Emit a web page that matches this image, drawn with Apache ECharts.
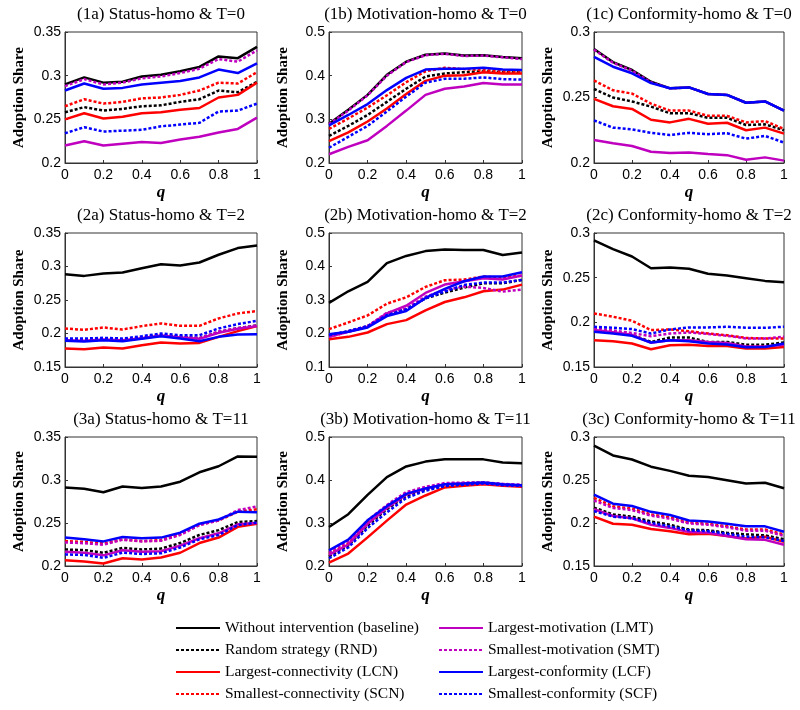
<!DOCTYPE html>
<html>
<head>
<meta charset="utf-8">
<script src="https://cdn.jsdelivr.net/npm/echarts@6/dist/echarts.min.js"></script>
<style>
html,body{margin:0;padding:0;background:#fff;}
#chart{width:800px;height:710px;}
</style>
</head>
<body>
<div id="chart"></div>
<script>
// ---------- data ----------
const qValues = [0, 0.1, 0.2, 0.3, 0.4, 0.5, 0.6, 0.7, 0.8, 0.9, 1];
const seriesNames = ['Without intervention (baseline)', 'Random strategy (RND)', 'Largest-connectivity (LCN)', 'Smallest-connectivity (SCN)',
                     'Largest-motivation (LMT)', 'Smallest-motivation (SMT)', 'Largest-conformity (LCF)', 'Smallest-conformity (SCF)'];
const seriesColors = ['#000000', '#000000', '#ff0000', '#ff0000', '#bf00bf', '#bf00bf', '#0000ff', '#0000ff'];
const seriesDotted = [false, true, false, true, false, true, false, true];

const panelTitles = ['(1a) Status-homo & T=0', '(1b) Motivation-homo & T=0', '(1c) Conformity-homo & T=0',
                     '(2a) Status-homo & T=2', '(2b) Motivation-homo & T=2', '(2c) Conformity-homo & T=2',
                     '(3a) Status-homo & T=11', '(3b) Motivation-homo & T=11', '(3c) Conformity-homo & T=11'];
const yMins = [0.2, 0.2, 0.2, 0.15, 0.1, 0.15, 0.2, 0.2, 0.15];
const yMaxs = [0.35, 0.5, 0.3, 0.35, 0.5, 0.3, 0.35, 0.5, 0.3];
const yIntervals = [0.05, 0.1, 0.05, 0.05, 0.1, 0.05, 0.05, 0.1, 0.05];

// order of rows in each panel: baseline, RND, LCN, SCN, LMT, SMT, LCF, SCF
const panel1a = [
  [0.290,0.298,0.292,0.293,0.299,0.301,0.305,0.310,0.322,0.320,0.333],
  [0.258,0.264,0.260,0.262,0.265,0.266,0.270,0.273,0.283,0.281,0.293],
  [0.250,0.257,0.251,0.253,0.257,0.258,0.261,0.263,0.275,0.278,0.292],
  [0.265,0.273,0.268,0.270,0.274,0.275,0.278,0.283,0.292,0.291,0.304],
  [0.220,0.225,0.220,0.222,0.224,0.223,0.227,0.230,0.235,0.239,0.252],
  [0.288,0.296,0.290,0.292,0.297,0.299,0.303,0.308,0.319,0.316,0.329],
  [0.283,0.291,0.285,0.286,0.290,0.292,0.294,0.298,0.307,0.303,0.314],
  [0.234,0.241,0.236,0.237,0.238,0.242,0.244,0.246,0.259,0.260,0.268]
];
const panel1b = [
  [0.290,0.322,0.356,0.402,0.432,0.448,0.451,0.446,0.447,0.443,0.440],
  [0.262,0.285,0.310,0.340,0.370,0.398,0.405,0.408,0.410,0.408,0.408],
  [0.250,0.270,0.295,0.325,0.358,0.388,0.400,0.401,0.408,0.405,0.405],
  [0.278,0.302,0.327,0.355,0.385,0.410,0.418,0.415,0.413,0.410,0.410],
  [0.220,0.237,0.252,0.285,0.320,0.356,0.370,0.375,0.383,0.380,0.380],
  [0.289,0.320,0.355,0.400,0.431,0.447,0.450,0.445,0.446,0.442,0.438],
  [0.286,0.310,0.335,0.367,0.395,0.414,0.416,0.416,0.418,0.414,0.413],
  [0.235,0.260,0.285,0.318,0.352,0.384,0.393,0.393,0.396,0.392,0.391]
];
const panel1c = [
  [0.287,0.277,0.271,0.262,0.257,0.2577,0.2527,0.252,0.246,0.247,0.240],
  [0.2565,0.250,0.247,0.243,0.238,0.238,0.2345,0.2345,0.229,0.2295,0.225],
  [0.249,0.2433,0.2413,0.233,0.231,0.2337,0.230,0.2307,0.225,0.227,0.2224],
  [0.263,0.2555,0.253,0.2453,0.240,0.240,0.236,0.236,0.231,0.232,0.226],
  [0.2176,0.215,0.213,0.2086,0.2076,0.208,0.2068,0.206,0.2025,0.2043,0.2018],
  [0.2865,0.2765,0.2705,0.2615,0.257,0.2577,0.2527,0.252,0.246,0.247,0.240],
  [0.281,0.2735,0.2685,0.261,0.257,0.2577,0.2527,0.252,0.246,0.247,0.240],
  [0.2325,0.227,0.2257,0.223,0.2214,0.223,0.222,0.2227,0.2186,0.2207,0.2156]
];
const panel2a = [
  [0.2885,0.286,0.2895,0.291,0.2975,0.3035,0.3015,0.306,0.3175,0.3275,0.3315],
  [0.190,0.189,0.191,0.190,0.193,0.197,0.195,0.193,0.202,0.208,0.212],
  [0.1775,0.1765,0.179,0.1775,0.1825,0.1865,0.185,0.186,0.195,0.2035,0.211],
  [0.2075,0.2055,0.209,0.206,0.211,0.215,0.2115,0.2115,0.2225,0.230,0.2335],
  [0.190,0.189,0.191,0.190,0.193,0.197,0.194,0.192,0.201,0.207,0.211],
  [0.191,0.190,0.192,0.190,0.194,0.198,0.195,0.193,0.203,0.208,0.212],
  [0.189,0.188,0.190,0.1885,0.192,0.196,0.1925,0.1885,0.195,0.1985,0.199],
  [0.1925,0.1925,0.1935,0.1925,0.196,0.200,0.1975,0.1975,0.2075,0.214,0.219]
];
const panel2b = [
  [0.2915,0.326,0.354,0.410,0.4315,0.446,0.451,0.449,0.449,0.4345,0.442],
  [0.193,0.207,0.222,0.258,0.273,0.305,0.322,0.337,0.350,0.350,0.360],
  [0.183,0.190,0.203,0.228,0.240,0.269,0.294,0.308,0.326,0.331,0.346],
  [0.213,0.233,0.254,0.289,0.308,0.339,0.359,0.361,0.370,0.366,0.373],
  [0.190,0.205,0.220,0.260,0.283,0.321,0.346,0.356,0.365,0.361,0.373],
  [0.190,0.205,0.222,0.262,0.275,0.310,0.330,0.340,0.336,0.325,0.331],
  [0.198,0.205,0.218,0.252,0.267,0.306,0.333,0.356,0.370,0.370,0.383],
  [0.195,0.207,0.222,0.255,0.272,0.305,0.325,0.345,0.352,0.352,0.360]
];
const panel2c = [
  [0.2918,0.282,0.2737,0.2606,0.2614,0.260,0.2543,0.2524,0.2494,0.2464,0.2449],
  [0.191,0.189,0.186,0.178,0.183,0.183,0.178,0.178,0.175,0.175,0.1774],
  [0.180,0.1789,0.1763,0.1699,0.1744,0.175,0.1736,0.1736,0.1706,0.1706,0.1725],
  [0.210,0.2063,0.2018,0.1913,0.192,0.190,0.1875,0.1856,0.1826,0.1819,0.1819],
  [0.1913,0.189,0.186,0.177,0.180,0.180,0.178,0.177,0.173,0.173,0.175],
  [0.193,0.191,0.188,0.1845,0.1875,0.1886,0.187,0.185,0.182,0.182,0.1838],
  [0.1894,0.1875,0.1849,0.1774,0.180,0.1789,0.1763,0.1751,0.172,0.1725,0.1763],
  [0.195,0.1939,0.1924,0.1875,0.192,0.1943,0.1943,0.195,0.1939,0.1939,0.195]
];
const panel3a = [
  [0.2914,0.2898,0.2857,0.2925,0.2906,0.2925,0.298,0.309,0.316,0.3274,0.327],
  [0.2192,0.2185,0.2154,0.221,0.2192,0.2203,0.2267,0.2361,0.2417,0.2511,0.2523],
  [0.2068,0.2053,0.203,0.209,0.2075,0.2098,0.2154,0.2267,0.2331,0.2455,0.2492],
  [0.229,0.228,0.226,0.231,0.229,0.230,0.237,0.248,0.253,0.263,0.266],
  [0.2165,0.2155,0.2124,0.2184,0.2165,0.2172,0.2237,0.2323,0.238,0.2485,0.250],
  [0.2274,0.2265,0.2248,0.2305,0.2286,0.2293,0.2361,0.2474,0.253,0.265,0.2692],
  [0.233,0.2312,0.2286,0.2338,0.2323,0.233,0.2387,0.2492,0.2541,0.2632,0.2624],
  [0.2135,0.2128,0.2095,0.2155,0.214,0.2148,0.2215,0.231,0.236,0.2475,0.2505]
];
const panel3b = [
  [0.2905,0.3205,0.3655,0.4068,0.4315,0.4428,0.448,0.448,0.448,0.4405,0.439],
  [0.222,0.248,0.294,0.332,0.363,0.378,0.388,0.391,0.393,0.389,0.387],
  [0.208,0.229,0.2665,0.3055,0.343,0.364,0.3827,0.3865,0.390,0.3865,0.3842],
  [0.228,0.252,0.300,0.337,0.368,0.381,0.390,0.392,0.394,0.389,0.387],
  [0.226,0.250,0.298,0.335,0.366,0.380,0.390,0.392,0.393,0.389,0.387],
  [0.232,0.258,0.306,0.342,0.372,0.384,0.393,0.394,0.395,0.391,0.389],
  [0.2365,0.2612,0.3062,0.3392,0.3677,0.3805,0.3902,0.3917,0.394,0.3902,0.388],
  [0.218,0.243,0.288,0.325,0.358,0.375,0.386,0.389,0.392,0.388,0.386]
];
const panel3c = [
  [0.2899,0.2786,0.2738,0.2655,0.2606,0.255,0.2535,0.2498,0.246,0.2468,0.2404],
  [0.2179,0.210,0.2074,0.2018,0.198,0.1924,0.1916,0.1886,0.1868,0.1856,0.1811],
  [0.2074,0.1991,0.198,0.1931,0.1905,0.1868,0.1875,0.1849,0.1819,0.1841,0.1781],
  [0.2291,0.2194,0.2168,0.210,0.2066,0.2006,0.1991,0.1961,0.1924,0.1924,0.1868],
  [0.216,0.2081,0.2055,0.198,0.1943,0.1894,0.1886,0.1849,0.1811,0.1804,0.1748],
  [0.2261,0.2175,0.215,0.2085,0.205,0.1995,0.198,0.195,0.191,0.191,0.185],
  [0.2329,0.2224,0.2198,0.213,0.2093,0.2029,0.2018,0.1991,0.1961,0.1961,0.1898],
  [0.2138,0.2074,0.2055,0.200,0.196,0.1915,0.1905,0.1875,0.184,0.1835,0.179]
];
const panels = [panel1a, panel1b, panel1c, panel2a, panel2b, panel2c, panel3a, panel3b, panel3c];

// ---------- layout ----------
const colLeft = [65, 329, 594];
const colWidth = [192, 193, 190];
const rowTop = [32, 233, 437];
const rowHeight = [131, 134, 129];

const serif = '"Liberation Serif", "Times New Roman", serif';
const sans = '"Liberation Sans", Arial, sans-serif';

const grids = [], xAxes = [], yAxes = [], series = [], titles = [];
panels.forEach((panel, i) => {
  const col = i % 3, row = Math.floor(i / 3);
  grids.push({
    left: colLeft[col], top: rowTop[row], width: colWidth[col], height: rowHeight[row],
    show: true, borderColor: '#333', borderWidth: 1, backgroundColor: 'transparent',
    containLabel: false, outerBoundsMode: 'none'
  });
  titles.push({
    text: panelTitles[i],
    left: colLeft[col] + colWidth[col] / 2,
    top: rowTop[row] - 26,
    textAlign: 'center',
    padding: 0,
    textStyle: { fontFamily: serif, fontSize: 17, fontWeight: 'normal', color: '#000' }
  });
  xAxes.push({
    type: 'value', gridIndex: i, min: 0, max: 1, interval: 0.2,
    name: 'q', nameLocation: 'middle', nameGap: 21,
    nameTextStyle: { fontFamily: serif, fontSize: 17, fontWeight: 'bold', fontStyle: 'italic', color: '#000' },
    axisLine: { show: true, lineStyle: { color: '#333', width: 1 } },
    axisTick: { show: true, inside: true, length: 3, lineStyle: { color: '#333' } },
    axisLabel: { show: true, margin: 5, fontFamily: sans, fontSize: 14, color: '#000' },
    splitLine: { show: false }
  });
  yAxes.push({
    type: 'value', gridIndex: i, min: yMins[i], max: yMaxs[i], interval: yIntervals[i],
    name: 'Adoption Share', nameLocation: 'middle', nameGap: 38, nameRotate: 90,
    nameTextStyle: { fontFamily: serif, fontSize: 15, fontWeight: 'bold', color: '#000' },
    axisLine: { show: true, lineStyle: { color: '#333', width: 1 } },
    axisTick: { show: true, inside: true, length: 3, lineStyle: { color: '#333' } },
    axisLabel: { show: true, margin: 4, fontFamily: sans, fontSize: 14, color: '#000' },
    splitLine: { show: false }
  });
  panel.forEach((vals, k) => {
    series.push({
      name: seriesNames[k], type: 'line', xAxisIndex: i, yAxisIndex: i,
      data: vals.map((v, j) => [qValues[j], v]),
      symbol: 'none', showSymbol: false, silent: true, animation: false,
      z: 2 + k,
      color: seriesColors[k],
      lineStyle: { color: seriesColors[k], width: 2.5, type: seriesDotted[k] ? [3, 2] : 'solid' }
    });
  });
});

const legendCommon = {
  orient: 'vertical', top: 620, itemWidth: 44, itemHeight: 14, itemGap: 6,
  selectedMode: false, padding: 0,
  itemStyle: { opacity: 0 },
  textStyle: { fontFamily: serif, fontSize: 15.5, color: '#000' }
};

const option = {
  backgroundColor: '#fff',
  animation: false,
  textStyle: { fontFamily: sans },
  title: titles,
  grid: grids,
  xAxis: xAxes,
  yAxis: yAxes,
  legend: [
    Object.assign({}, legendCommon, { left: 175, data: seriesNames.slice(0, 4) }),
    Object.assign({}, legendCommon, { left: 438, data: seriesNames.slice(4) })
  ],
  series: series
};

const chart = echarts.init(document.getElementById('chart'), null, { renderer: 'canvas', width: 800, height: 710 });
chart.setOption(option);
</script>
</body>
</html>
